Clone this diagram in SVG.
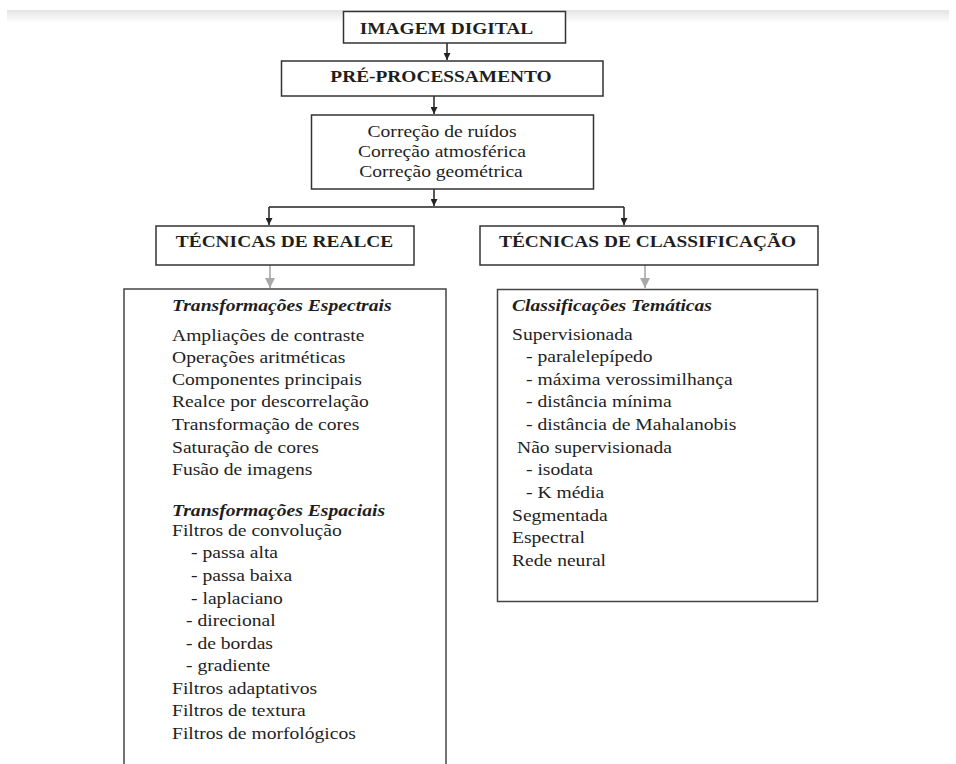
<svg xmlns="http://www.w3.org/2000/svg" width="956" height="764" viewBox="0 0 956 764">
  <defs>
    <linearGradient id="band" x1="0" y1="0" x2="0" y2="1">
      <stop offset="0" stop-color="#e4e4e4"/>
      <stop offset="1" stop-color="#ffffff"/>
    </linearGradient>
    <marker id="ah" viewBox="0 0 8 8" refX="8" refY="4" markerWidth="7" markerHeight="7" markerUnits="userSpaceOnUse" orient="auto">
      <path d="M0,0 L8,4 L0,8 z" fill="#222"/>
    </marker>
    <marker id="ahg" viewBox="0 0 8 8" refX="8" refY="4" markerWidth="10" markerHeight="10" markerUnits="userSpaceOnUse" orient="auto">
      <path d="M0,0 L8,4 L0,8 z" fill="#a8a8a8"/>
    </marker>
  </defs>
  <style>
    .box { fill: #ffffff; stroke: #333333; stroke-width: 1.5; }
    .big { fill: #ffffff; stroke: #444444; stroke-width: 1.5; }
    .hd { font-family: "Liberation Serif", "Times New Roman", serif; font-size: 17px; font-weight: bold; fill: #1e1e1e; text-anchor: middle; }
    .ct { font-family: "Liberation Serif", "Times New Roman", serif; font-size: 17.5px; fill: #1e1e1e; text-anchor: middle; }
    .tx { font-family: "Liberation Serif", "Times New Roman", serif; font-size: 17.5px; fill: #1e1e1e; }
    .ti { font-family: "Liberation Serif", "Times New Roman", serif; font-size: 17.5px; font-weight: bold; font-style: italic; fill: #1e1e1e; }
    .con { fill: none; stroke: #222; stroke-width: 1.5; }
    .cong { fill: none; stroke: #a8a8a8; stroke-width: 1.6; }
  </style>
  <rect x="0" y="0" width="956" height="764" fill="#ffffff"/>
  <rect x="7" y="10" width="942" height="13" fill="url(#band)"/>

  <g id="connectors">
    <path class="con" d="M447,43 V60" marker-end="url(#ah)"/>
    <path class="con" d="M434,96 V114" marker-end="url(#ah)"/>
    <path class="con" d="M434,189 V206" marker-end="url(#ah)"/>
    <path class="con" d="M269,207 H624"/>
    <path class="con" d="M269,207 V225" marker-end="url(#ah)"/>
    <path class="con" d="M624,207 V225" marker-end="url(#ah)"/>
    <path class="cong" d="M270,265 V288" marker-end="url(#ahg)"/>
    <path class="cong" d="M645,265 V288" marker-end="url(#ahg)"/>
  </g>

  <g id="imagem-digital">
    <rect class="box" x="343.5" y="11.5" width="222" height="31.5"/>
    <text class="hd" transform="translate(446.5,33.5) scale(1.14,1)">IMAGEM DIGITAL</text>
  </g>

  <g id="pre-processamento">
    <rect class="box" x="281.5" y="61" width="321.5" height="35"/>
    <text class="hd" transform="translate(441,82) scale(1.14,1)">PRÉ-PROCESSAMENTO</text>
  </g>

  <g id="correcoes">
    <rect class="box" x="311.5" y="115" width="282" height="74"/>
    <text class="ct" transform="translate(442,137) scale(1.12,1)">Correção de ruídos</text>
    <text class="ct" transform="translate(442,157) scale(1.12,1)">Correção atmosférica</text>
    <text class="ct" transform="translate(441,177) scale(1.12,1)">Correção geométrica</text>
  </g>

  <g id="tecnicas-realce">
    <rect class="box" x="156" y="226" width="258" height="39"/>
    <text class="hd" transform="translate(284.5,247) scale(1.14,1)">TÉCNICAS DE REALCE</text>
  </g>

  <g id="tecnicas-classificacao">
    <rect class="box" x="480" y="226" width="338" height="39"/>
    <text class="hd" transform="translate(647.5,247) scale(1.14,1)">TÉCNICAS DE CLASSIFICAÇÃO</text>
  </g>

  <g id="realce-lista">
    <rect class="big" x="124" y="289" width="322" height="500"/>
    <g transform="translate(172,0) scale(1.12,1)">
      <text class="ti" x="0" y="311">Transformações Espectrais</text>
      <text class="tx" x="0" y="341">Ampliações de contraste</text>
      <text class="tx" x="0" y="363">Operações aritméticas</text>
      <text class="tx" x="0" y="385">Componentes principais</text>
      <text class="tx" x="0" y="407.5">Realce por descorrelação</text>
      <text class="tx" x="0" y="430">Transformação de cores</text>
      <text class="tx" x="0" y="453">Saturação de cores</text>
      <text class="tx" x="0" y="475">Fusão de imagens</text>
      <text class="ti" x="0" y="516">Transformações Espaciais</text>
      <text class="tx" x="0" y="536">Filtros de convolução</text>
      <text class="tx" x="17" y="558">- passa alta</text>
      <text class="tx" x="17" y="581">- passa baixa</text>
      <text class="tx" x="17" y="604">- laplaciano</text>
      <text class="tx" x="12.5" y="626">- direcional</text>
      <text class="tx" x="12.5" y="649">- de bordas</text>
      <text class="tx" x="12.5" y="671">- gradiente</text>
      <text class="tx" x="0" y="694">Filtros adaptativos</text>
      <text class="tx" x="0" y="716">Filtros de textura</text>
      <text class="tx" x="0" y="739">Filtros de morfológicos</text>
    </g>
  </g>

  <g id="classificacao-lista">
    <rect class="big" x="497.5" y="289.5" width="320" height="312"/>
    <g transform="translate(512,0) scale(1.12,1)">
      <text class="ti" x="0" y="311.5">Classificações Temáticas</text>
      <text class="tx" x="0" y="340.5">Supervisionada</text>
      <text class="tx" x="12.5" y="362.5">- paralelepípedo</text>
      <text class="tx" x="12.5" y="385">- máxima verossimilhança</text>
      <text class="tx" x="12.5" y="407.5">- distância mínima</text>
      <text class="tx" x="12.5" y="430">- distância de Mahalanobis</text>
      <text class="tx" x="4.5" y="453.5">Não supervisionada</text>
      <text class="tx" x="12.5" y="475.5">- isodata</text>
      <text class="tx" x="12.5" y="498">- K média</text>
      <text class="tx" x="0" y="521.5">Segmentada</text>
      <text class="tx" x="0" y="543.5">Espectral</text>
      <text class="tx" x="0" y="566.5">Rede neural</text>
    </g>
  </g>
</svg>
